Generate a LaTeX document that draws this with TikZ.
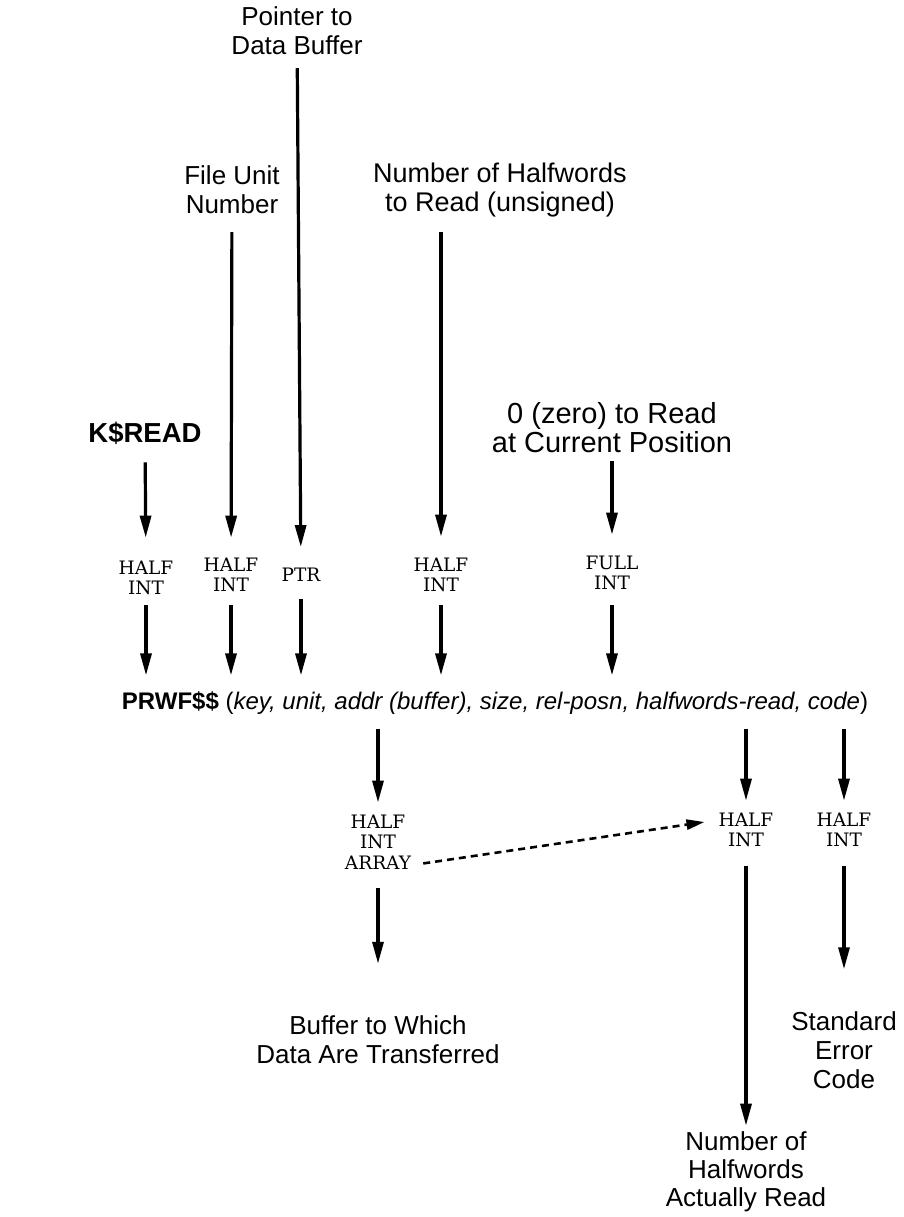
\documentclass[tikz,border=0pt]{standalone}
\usepackage{fontspec}
\usetikzlibrary{arrows.meta,calc}
\newfontfamily\lblfont{Liberation Sans}
\newfontfamily\typefont{DejaVu Serif}
\begin{document}
\begin{tikzpicture}[x=1pt,y=-1pt,
  lbl/.style={align=center,inner sep=0pt,font=\lblfont\fontsize{26}{29}\selectfont},
  typ/.style={align=center,inner sep=0pt,font=\typefont\fontsize{18.5}{20.5}\selectfont},
  arr/.style={line width=3.2pt,-{Triangle[length=22pt,width=11pt]}},
  dasharr/.style={line width=2.6pt,dash pattern=on 7pt off 5pt,-{Triangle[length=18pt,width=10pt]}}]
\useasboundingbox (0,0) rectangle (903,1217);
% top labels
\node[lbl] (ptrtxt) at (297,31) {Pointer to\\Data Buffer};
\node[lbl] (unittxt) at (232,190) {File Unit\\Number};
\node[lbl,font=\lblfont\fontsize{27}{29}\selectfont] (sizetxt) at (500,190) {Number of Halfwords\\to Read (unsigned)};
\node[lbl,font=\lblfont\fontsize{27.5}{29}\selectfont] (keytxt) at (145,433) {\bfseries K\$READ};
\node[lbl,font=\lblfont\fontsize{29}{29}\selectfont] (postxt) at (612,428) {0 (zero) to Read\\at Current Position};
% types (inputs)
\node[typ] (keytype) at (146,578) {HALF\\INT};
\node[typ] (unittype) at (231,575) {HALF\\INT};
\node[typ] (ptrtype) at (301,575) {PTR};
\node[typ] (sizetype) at (441,575) {HALF\\INT};
\node[typ] (postype) at (612,573) {FULL\\INT};
% call
\node[lbl,font=\lblfont\fontsize{24}{28}\selectfont] (call) at (495,703) {\textbf{PRWF\$\$} (\textit{key, unit, addr (buffer), size, rel-posn, halfwords-read, code})};
% types (outputs)
\node[typ] (buftype) at (378,842) {HALF\\INT\\ARRAY};
\node[typ] (readtype) at (746,830) {HALF\\INT};
\node[typ] (codetype) at (844,830) {HALF\\INT};
% bottom labels
\node[lbl] (buftxt) at (378,1040) {Buffer to Which\\Data Are Transferred};
\node[lbl] (codetxt) at (844,1050) {Standard\\Error\\Code};
\node[lbl,font=\lblfont\fontsize{26}{28}\selectfont] (readtxt) at (746,1172) {Number of\\Halfwords\\Actually Read};
% arrows into types
\draw[arr,shorten <=18pt,shorten >=23pt] (keytxt) -- (keytype);
\draw[arr,shorten <=18pt,shorten >=20pt] (unittxt) -- (unittype);
\draw[arr,shorten <=13pt,shorten >=21pt] (ptrtxt) -- (ptrtype);
\draw[arr,shorten <=15pt,shorten >=21pt] (sizetype.north |- sizetxt.south) -- (sizetype.north);
\draw[arr,shorten <=8pt,shorten >=21pt] (postxt) -- (postype);
% arrows into call
\draw[arr,shorten <=10pt,shorten >=16pt] (keytype.south) -- (keytype.south |- call.north);
\draw[arr,shorten <=13pt,shorten >=16pt] (unittype.south) -- (unittype.south |- call.north);
\draw[arr,shorten <=17pt,shorten >=16pt] (ptrtype.south) -- (ptrtype.south |- call.north);
\draw[arr,shorten <=13pt,shorten >=16pt] (sizetype.south) -- (sizetype.south |- call.north);
\draw[arr,shorten <=15pt,shorten >=16pt] (postype.south) -- (postype.south |- call.north);
% arrows out of call
\draw[arr,shorten <=14pt,shorten >=12pt] (buftype.north |- call.south) -- (buftype.north);
\draw[arr,shorten <=14pt,shorten >=12pt] (readtype.north |- call.south) -- (readtype.north);
\draw[arr,shorten <=14pt,shorten >=12pt] (codetype.north |- call.south) -- (codetype.north);
% arrows to results
\draw[arr,shorten <=19pt,shorten >=52pt] (buftype) -- (buftxt);
\draw[arr,shorten <=19pt,shorten >=42pt] (codetype) -- (codetxt);
\draw[arr,shorten <=19pt,shorten >=6pt] (readtype) -- (readtxt);
% dashed
\draw[dasharr] ($(buftype.south east)+(12,-6)$) -- ($(readtype.west)+(-14,-8)$);
\end{tikzpicture}
\end{document}
